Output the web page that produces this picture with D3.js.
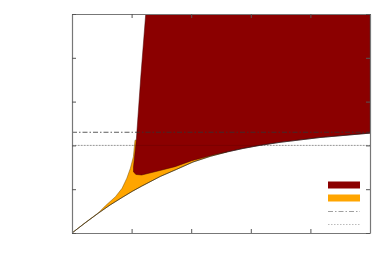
<!DOCTYPE html>
<html>
<head>
<meta charset="utf-8">
<script src="https://cdn.jsdelivr.net/npm/d3@7"></script>
<style>
  body { margin: 0; background: #fff; }
  svg { display: block; font-family: "DejaVu Sans", sans-serif; }
</style>
</head>
<body>
<div id="chart"></div>
<script>
// lower boundary curve (white / filled)
const lowerX = [0, 0.22, 0.45, 0.64, 0.84, 1.01, 1.17, 1.48, 1.75, 2.03, 2.32, 2.60, 2.87, 3.15, 3.49, 4.16, 5.0];
const lowerY = [0, 0.23, 0.46, 0.64, 0.81, 0.95, 1.07, 1.29, 1.45, 1.62, 1.75, 1.85, 1.93, 2.00, 2.07, 2.18, 2.28];

// upper edge of the orange region
const orangeTopX = [0, 0.22, 0.45, 0.56, 0.73, 0.84, 0.92, 0.98, 1.03, 1.057];
const orangeTopY = [0, 0.235, 0.47, 0.62, 0.83, 1.02, 1.25, 1.48, 1.74, 2.12];

// left edge and lower edge of the dark red region (before it meets the lower curve)
const redEdgeX = [1.237, 1.154, 1.079, 1.049, 1.032, 1.032, 1.074, 1.169, 1.443, 1.728, 2.008, 2.399];
const redEdgeY = [5.0, 3.56, 2.12, 1.735, 1.507, 1.393, 1.336, 1.324, 1.416, 1.514, 1.651, 1.792];

// horizontal reference levels
const dashDotLevel = 2.3;
const dottedLevel = 2.0;

const xTicks = [0, 1, 2, 3, 4, 5];
const yTicks = [0, 1, 2, 3, 4, 5];

const width = 388, height = 271;
const mLeft = 72, mRight = 370, mTop = 14, mBottom = 233;

const x = d3.scaleLinear().domain([0, 5]).range([mLeft, mRight]);
const y = d3.scaleLinear().domain([0, 5]).range([mBottom, mTop]);

const svg = d3.select("#chart")
  .append("svg")
  .attr("width", width)
  .attr("height", height);

svg.append("clipPath")
  .attr("id", "plot-clip")
  .append("rect")
  .attr("x", mLeft).attr("y", mTop)
  .attr("width", mRight - mLeft).attr("height", mBottom - mTop);

const plot = svg.append("g").attr("clip-path", "url(#plot-clip)");

const line = d3.line().x(d => x(d[0])).y(d => y(d[1]));
const zip = (xs, ys) => xs.map((v, i) => [v, ys[i]]);

const lower = zip(lowerX, lowerY);
const orangeTop = zip(orangeTopX, orangeTopY);
const redEdge = zip(redEdgeX, redEdgeY);

// dotted level sits under the fills
plot.append("line")
  .attr("x1", mLeft).attr("x2", mRight)
  .attr("y1", y(dottedLevel)).attr("y2", y(dottedLevel))
  .attr("stroke", "#aaa")
  .attr("stroke-width", 1)
  .attr("stroke-dasharray", "1.5,1.5");

// orange region: up the top edge, across (hidden under red), back along the lower curve
const lastOrangeX = 2.60;
const lowerPart = lower.filter(d => d[0] <= lastOrangeX);
const orangePoly = orangeTop
  .concat([[lastOrangeX, orangeTopY[orangeTopY.length - 1]]])
  .concat(lowerPart.slice().reverse());

plot.append("path")
  .attr("d", line(orangePoly) + "Z")
  .attr("fill", "#ffa500")
  .attr("stroke", "#7a5000")
  .attr("stroke-width", 0.5);

// dark red region: left/bottom edge, then the lower curve out to the right, then the top
const redPoly = redEdge
  .concat(lower.filter(d => d[0] > redEdgeX[redEdgeX.length - 1]))
  .concat([[5, 5]]);

plot.append("path")
  .attr("d", line(redPoly) + "Z")
  .attr("fill", "#8b0000")
  .attr("stroke", "#4a0000")
  .attr("stroke-width", 0.5);

// faint trace of the dotted level over the red
plot.append("line")
  .attr("x1", mLeft).attr("x2", mRight)
  .attr("y1", y(dottedLevel)).attr("y2", y(dottedLevel))
  .attr("stroke", "#000")
  .attr("stroke-opacity", 0.12)
  .attr("stroke-width", 1);

// lower curve outline
plot.append("path")
  .attr("d", line(lower))
  .attr("fill", "none")
  .attr("stroke", "#222")
  .attr("stroke-width", 0.6);

plot.append("line")
  .attr("x1", mLeft).attr("x2", mRight)
  .attr("y1", y(dashDotLevel)).attr("y2", y(dashDotLevel))
  .attr("stroke", "#333")
  .attr("stroke-width", 0.8)
  .attr("stroke-dasharray", "5,2,1.5,2");

// frame with inward ticks on all four sides
const tickLen = 4;
const axes = [
  { gen: d3.axisBottom(x).tickValues(xTicks), t: `translate(0,${mBottom})` },
  { gen: d3.axisTop(x).tickValues(xTicks), t: `translate(0,${mTop})` },
  { gen: d3.axisLeft(y).tickValues(yTicks), t: `translate(${mLeft},0)` },
  { gen: d3.axisRight(y).tickValues(yTicks), t: `translate(${mRight},0)` }
];
axes.forEach(a => {
  const g = svg.append("g")
    .attr("transform", a.t)
    .call(a.gen.tickSizeInner(-tickLen).tickSizeOuter(0).tickFormat(""));
  g.select(".domain").attr("stroke", "#777").attr("stroke-width", 1.2);
  g.selectAll(".tick line").attr("stroke", "#555");
});

// legend (no labels)
const legend = svg.append("g");
const lx0 = 328, lx1 = 360;
legend.append("rect")
  .attr("x", lx0).attr("y", 181.5).attr("width", lx1 - lx0).attr("height", 7)
  .attr("fill", "#8b0000");
legend.append("rect")
  .attr("x", lx0).attr("y", 194.5).attr("width", lx1 - lx0).attr("height", 7)
  .attr("fill", "#ffa500");
legend.append("line")
  .attr("x1", lx0).attr("x2", lx1).attr("y1", 211.5).attr("y2", 211.5)
  .attr("stroke", "#888").attr("stroke-width", 0.8)
  .attr("stroke-dasharray", "5,2,1.5,2");
legend.append("line")
  .attr("x1", lx0).attr("x2", lx1).attr("y1", 224.5).attr("y2", 224.5)
  .attr("stroke", "#aaa").attr("stroke-width", 0.8)
  .attr("stroke-dasharray", "1.5,1.5");
</script>
</body>
</html>
